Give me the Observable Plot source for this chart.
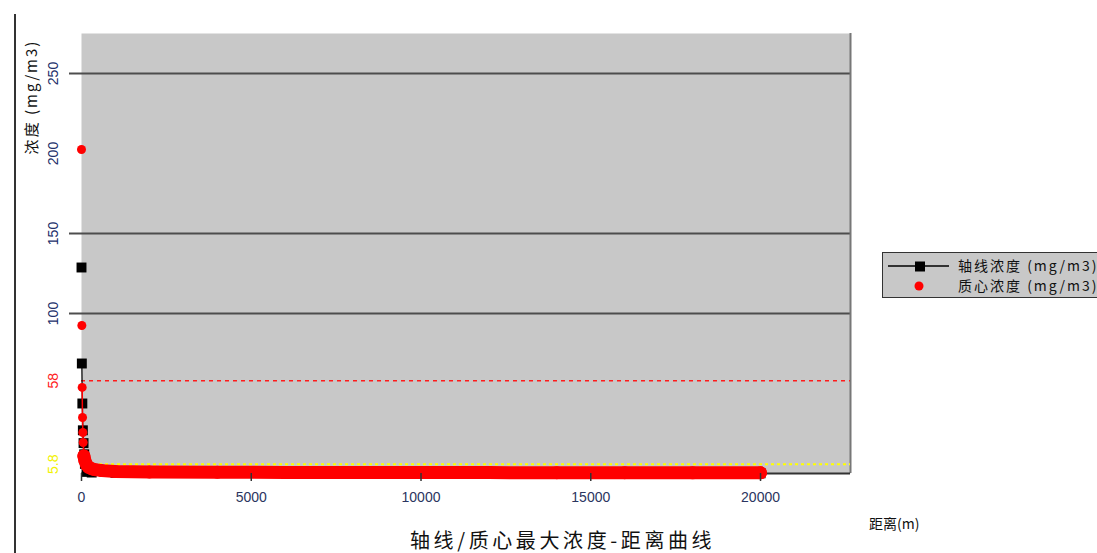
<!DOCTYPE html>
<html>
<head>
<meta charset="utf-8">
<script src="https://cdn.jsdelivr.net/npm/d3@7"></script>
<script src="https://cdn.jsdelivr.net/npm/@observablehq/plot@0.6"></script>
<style>
  html, body { margin: 0; padding: 0; background: #fff; overflow: hidden; }
  #wrap { position: relative; width: 1097px; height: 553px; font-family: "Noto Sans CJK SC", "Liberation Sans", sans-serif; }
  #wrap svg.plot { position: absolute; left: 0; top: 0; }
  .abs { position: absolute; white-space: nowrap; color: #111; }
</style>
</head>
<body>
<div id="wrap"></div>
<script>
// ---- data ----
const xDomain = [0, 22650];
const yDomain = [0, 275];
const xTicks = [0, 5000, 10000, 15000, 20000];
const gridTicks = [100, 150, 250];
const yTickNavy = [100, 150, 200, 250];
const yTickRed = [58];
const yTickYellow = [5.8];
const thresholdRed = 58;
const thresholdYellow = 5.8;

// 轴线浓度 (black)
const axisDist = [0, 10, 25, 40, 60, 80, 100, 150, 300, 1000, 5000, 10000, 15000, 20000];
const axisConc = [128.75, 68.75, 43.75, 27, 19, 12, 6, 1, 0.6, 0.4, 0.3, 0.2, 0.2, 0.1];

// 质心浓度 (red) – near-source points
const cenHeadDist = [0, 10, 20, 30, 40, 50, 70];
const cenHeadConc = [202.5, 92.5, 53.8, 35, 25.6, 19.4, 11];
// 质心浓度 (red) – long tail
const cenTailDist = [70, 100, 150, 200, 300, 400, 600, 1000, 2000, 4000, 6000, 8000, 10000, 12000, 14000, 16000, 18000, 20000];
const cenTailConc = [11, 8, 5.5, 4, 3, 2.4, 1.8, 1.3, 1.0, 0.8, 0.7, 0.65, 0.6, 0.55, 0.5, 0.5, 0.45, 0.4];

const axisData = axisDist.map((d, i) => ({d, c: axisConc[i]}));
const headData = cenHeadDist.map((d, i) => ({d, c: cenHeadConc[i]}));
const tailData = cenTailDist.map((d, i) => ({d, c: cenTailConc[i]}));

const chart = Plot.plot({
  width: 1097,
  height: 553,
  marginTop: 33,
  marginLeft: 81,
  marginRight: 247,
  marginBottom: 80,
  x: {domain: xDomain, axis: null},
  y: {domain: yDomain, axis: null},
  style: {background: "transparent", fontFamily: "'Liberation Sans', Arial, sans-serif", fontSize: "14px", overflow: "visible"},
  marks: [
    Plot.frame({fill: "#c8c8c8", stroke: null}),
    Plot.gridY(gridTicks, {stroke: "#4d4d4d", strokeOpacity: 1, strokeWidth: 2}),
    Plot.axisY(gridTicks, {tickSize: 12, tickFormat: () => "", stroke: "#4d4d4d", strokeWidth: 2, label: null}),
    Plot.ruleX([xDomain[1]], {stroke: "#777", strokeWidth: 2}),
    Plot.ruleY([0], {stroke: "#333", strokeWidth: 2}),
    Plot.ruleY([thresholdRed], {stroke: "#ff1a1a", strokeWidth: 1.5, strokeDasharray: "4,4"}),
    Plot.ruleY([thresholdYellow], {stroke: "#ffff00", strokeWidth: 2, strokeDasharray: "3,3"}),
    // black series (line visible only where points are close together)
    Plot.line(axisData.slice(1), {x: "d", y: "c", stroke: "#000", strokeWidth: 1.2}),
    Plot.dot(axisData, {x: "d", y: "c", symbol: "square", r: 5.6, fill: "#000", stroke: null}),
    // red series
    Plot.line(headData.slice(2), {x: "d", y: "c", stroke: "#ff0000", strokeWidth: 1.5}),
    Plot.dot(headData, {x: "d", y: "c", r: 4.5, fill: "#ff0000", stroke: null}),
    Plot.line(tailData, {x: "d", y: "c", stroke: "#ff0000", strokeWidth: 13, strokeLinecap: "round", strokeLinejoin: "round"}),
    Plot.dot(tailData, {x: "d", y: "c", r: 6.5, fill: "#ff0000", stroke: null}),
    // x axis
    Plot.axisX(xTicks, {tickSize: 8, tickPadding: 11, fontSize: 14, fill: "#2b3560", stroke: "#333", strokeWidth: 1.5, label: null, tickFormat: d => String(d)}),
    // y tick labels (rotated)
    Plot.text(yTickNavy, {y: d => d, text: d => String(d), frameAnchor: "left", dx: -28, rotate: -90, fontSize: 14, fill: "#22306a", textAnchor: "middle", lineAnchor: "middle"}),
    Plot.text(yTickRed, {y: d => d, text: d => String(d), frameAnchor: "left", dx: -28, rotate: -90, fontSize: 14, fill: "#ff2020", textAnchor: "middle", lineAnchor: "middle"}),
    Plot.text(yTickYellow, {y: d => d, text: d => String(d), frameAnchor: "left", dx: -28, rotate: -90, fontSize: 14, fill: "#f2f200", textAnchor: "middle", lineAnchor: "middle"})
  ]
});

const wrap = document.getElementById("wrap");
wrap.appendChild(chart);

function addDiv(html, css) {
  const el = document.createElement("div");
  el.className = "abs";
  el.innerHTML = html;
  Object.assign(el.style, css);
  wrap.appendChild(el);
  return el;
}

// left page frame line
addDiv("", {left: "14px", top: "14px", width: "2px", height: "539px", background: "#333"});

// y axis label (rotated)
addDiv("浓度 (mg/m3)", {left: "30px", top: "97px", fontSize: "15px", letterSpacing: "2px", transform: "translate(-50%,-50%) rotate(-90deg)", color: "#111"});

// x axis label
addDiv("距离(m)", {left: "869px", top: "513px", fontSize: "14px", color: "#111"});

// title
addDiv("轴线/质心最大浓度-距离曲线", {left: "410px", top: "529px", fontSize: "20px", letterSpacing: "3.6px", color: "#111", lineHeight: "22px"});

// legend
const legend = addDiv(`
<svg width="70" height="44" style="position:absolute;left:4px;top:1px">
  <line x1="1" y1="12" x2="62" y2="12" stroke="#000" stroke-width="1.5"/>
  <rect x="28" y="7.5" width="10" height="10" fill="#000"/>
  <circle cx="32" cy="32" r="4.5" fill="#ff0000"/>
</svg>
<div style="position:absolute;left:75px;top:2px;font-size:14px;letter-spacing:2px;line-height:20px">轴线浓度 (mg/m3)</div>
<div style="position:absolute;left:75px;top:22px;font-size:14px;letter-spacing:2px;line-height:20px">质心浓度 (mg/m3)</div>
`, {left: "882px", top: "252px", width: "230px", height: "44px", background: "#c8c8c8", border: "1px solid #333"});
</script>
</body>
</html>
